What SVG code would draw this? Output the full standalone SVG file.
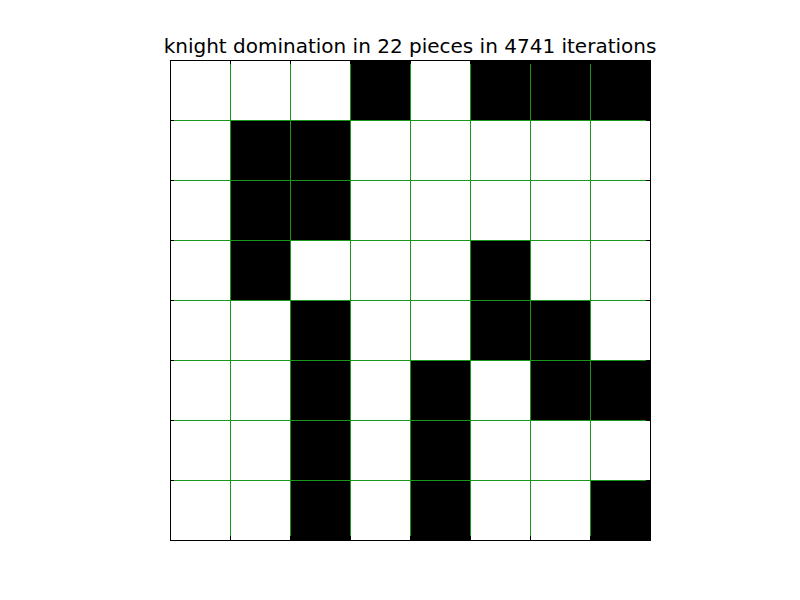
<svg xmlns="http://www.w3.org/2000/svg" width="800" height="600" viewBox="0 0 800 600">
<style>
.t{font-family:"DejaVu Sans",sans-serif;font-size:20px;fill:#000}
.c{fill:#000}
.g{stroke:#1a961a;stroke-width:1;fill:none}
.k{stroke:#000;stroke-width:1;fill:none}
</style>
<rect width="800" height="600" fill="#fff"/>
<text class="t" x="410" y="53" text-anchor="middle">knight domination in 22 pieces in 4741 iterations</text>
<g id="board">
<rect x="170" y="60" width="480" height="480" fill="#fff"/>
<g id="pieces">
<rect class="c" x="350" y="60" width="60" height="60"/>
<rect class="c" x="470" y="60" width="60" height="60"/>
<rect class="c" x="530" y="60" width="60" height="60"/>
<rect class="c" x="590" y="60" width="60" height="60"/>
<rect class="c" x="230" y="120" width="60" height="60"/>
<rect class="c" x="290" y="120" width="60" height="60"/>
<rect class="c" x="230" y="180" width="60" height="60"/>
<rect class="c" x="290" y="180" width="60" height="60"/>
<rect class="c" x="230" y="240" width="60" height="60"/>
<rect class="c" x="470" y="240" width="60" height="60"/>
<rect class="c" x="290" y="300" width="60" height="60"/>
<rect class="c" x="470" y="300" width="60" height="60"/>
<rect class="c" x="530" y="300" width="60" height="60"/>
<rect class="c" x="290" y="360" width="60" height="60"/>
<rect class="c" x="410" y="360" width="60" height="60"/>
<rect class="c" x="530" y="360" width="60" height="60"/>
<rect class="c" x="590" y="360" width="60" height="60"/>
<rect class="c" x="290" y="420" width="60" height="60"/>
<rect class="c" x="410" y="420" width="60" height="60"/>
<rect class="c" x="290" y="480" width="60" height="60"/>
<rect class="c" x="410" y="480" width="60" height="60"/>
<rect class="c" x="590" y="480" width="60" height="60"/>
</g>
<g id="gridlines">
<path class="g" d="M230.5 60V540M290.5 60V540M350.5 60V540M410.5 60V540M470.5 60V540M530.5 60V540M590.5 60V540M170 120.5H650M170 180.5H650M170 240.5H650M170 300.5H650M170 360.5H650M170 420.5H650M170 480.5H650"/>
</g>
<g id="ticks">
<path class="k" d="M170 120.5h4M170 180.5h4M170 240.5h4M170 300.5h4M170 360.5h4M170 420.5h4M170 480.5h4M650 120.5h-4M650 180.5h-4M650 240.5h-4M650 300.5h-4M650 360.5h-4M650 420.5h-4M650 480.5h-4M230.5 60v4M290.5 60v4M350.5 60v4M410.5 60v4M470.5 60v4M530.5 60v4M590.5 60v4M230.5 540v-4M290.5 540v-4M350.5 540v-4M410.5 540v-4M470.5 540v-4M530.5 540v-4M590.5 540v-4"/>
</g>
<rect class="k" x="170.5" y="60.5" width="480" height="480"/>
</g>
</svg>
